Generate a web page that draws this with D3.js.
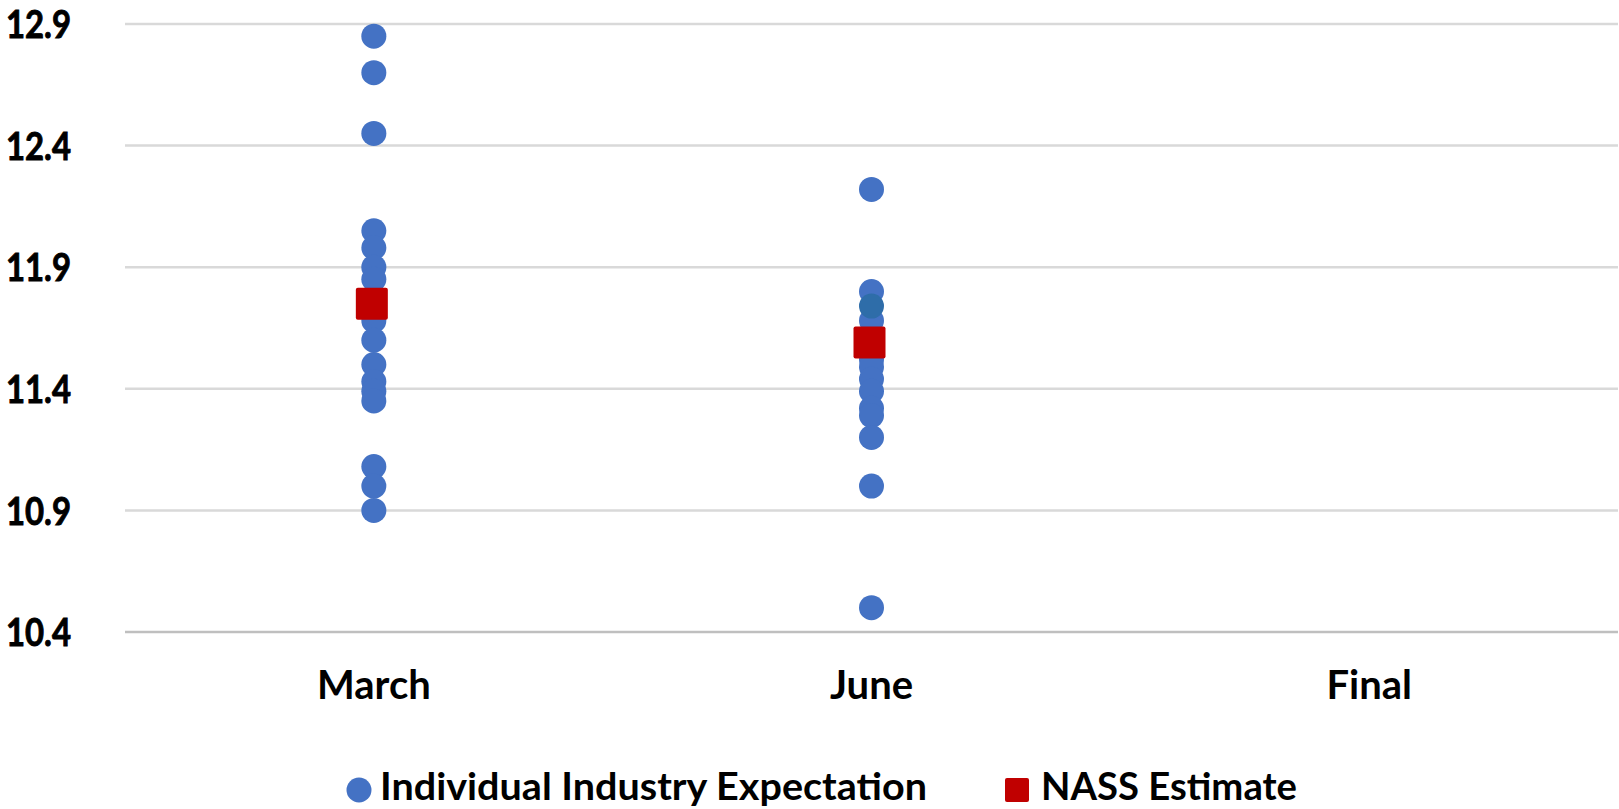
<!DOCTYPE html>
<html>
<head>
<meta charset="utf-8">
<script src="https://cdn.jsdelivr.net/npm/d3@7/dist/d3.min.js"></script>
<style>
  html, body { margin: 0; padding: 0; background: #ffffff; }
  svg { display: block; }
  text { font-family: Lato, "Open Sans", sans-serif; font-weight: 700; fill: #000; }
</style>
</head>
<body>
<svg id="chart" width="1619" height="809"></svg>
<script>
// ---- data ----
const categories = ["March", "June", "Final"];
const yTicks = [10.4, 10.9, 11.4, 11.9, 12.4, 12.9];
const marchExpectations = [12.85, 12.7, 12.45, 12.05, 11.98, 11.9, 11.85, 11.68, 11.6, 11.5, 11.43, 11.39, 11.35, 11.08, 11.0, 10.9];
const juneExpectations = [12.22, 11.8, 11.68, 11.52, 11.49, 11.44, 11.39, 11.32, 11.29, 11.2, 11.0, 10.5];
const juneHighlighted = [11.74];
const finalExpectations = [];
const nassEstimates = [11.75, 11.59, null];
const legendLabels = ["Individual Industry Expectation", "NASS Estimate"];

// ---- layout ----
const svg = d3.select("#chart");
const plotLeft = 125, plotRight = 1618, plotTop = 24, plotBottom = 632;

const x = d3.scaleBand().domain(categories).range([plotLeft, plotRight]).padding(0);
const y = d3.scaleLinear().domain([10.4, 12.9]).range([plotBottom, plotTop]);
const cx = c => x(c) + x.bandwidth() / 2;

const blue = "#4472C4", darkBlue = "#2E6DA9", red = "#C00000";

// gridlines
svg.append("g").selectAll("line").data(yTicks).join("line")
  .attr("x1", plotLeft).attr("x2", plotRight)
  .attr("y1", d => y(d)).attr("y2", d => y(d))
  .attr("stroke", d => d === 10.4 ? "#bfbfbf" : "#d9d9d9")
  .attr("stroke-width", 2.5);

// y axis labels
const yAxis = d3.axisLeft(y).tickValues(yTicks).tickFormat(d3.format(".1f")).tickSize(0).tickPadding(0);
const yg = svg.append("g").attr("transform", "translate(71,0)").call(yAxis);
yg.select(".domain").remove();
yg.selectAll("text").attr("font-size", 38).attr("font-family", "Lato, sans-serif")
  .attr("font-weight", 700).attr("fill", "#000").attr("dy", "0.36em")
  .attr("stroke", "#000").attr("stroke-width", 0.9)
  .attr("textLength", 65).attr("lengthAdjust", "spacingAndGlyphs");

// x axis labels
const xAxis = d3.axisBottom(x).tickSize(0).tickPadding(0);
const xg = svg.append("g").attr("transform", "translate(0,699)").call(xAxis);
xg.select(".domain").remove();
xg.selectAll("text").attr("font-size", 40).attr("font-family", "Lato, sans-serif")
  .attr("font-weight", 700).attr("fill", "#000").attr("dy", 0).attr("y", 0);

// expectation points
const pts = [];
marchExpectations.forEach(v => pts.push({c: "March", v}));
juneExpectations.forEach(v => pts.push({c: "June", v}));
finalExpectations.forEach(v => pts.push({c: "Final", v}));
svg.append("g").selectAll("circle").data(pts).join("circle")
  .attr("cx", d => cx(d.c)).attr("cy", d => y(d.v)).attr("r", 12.5)
  .attr("fill", blue);
svg.append("g").selectAll("circle").data(juneHighlighted).join("circle")
  .attr("cx", cx("June")).attr("cy", d => y(d)).attr("r", 12.5)
  .attr("fill", darkBlue);

// NASS estimates
const nass = categories.map((c, i) => ({c, v: nassEstimates[i]})).filter(d => d.v != null);
const sq = 32;
svg.append("g").selectAll("rect").data(nass).join("rect")
  .attr("x", d => cx(d.c) - sq / 2 - 2).attr("y", d => y(d.v) - sq / 2)
  .attr("width", sq).attr("height", sq).attr("rx", 2)
  .attr("fill", red);

// legend
const lg = svg.append("g");
lg.append("circle").attr("cx", 359).attr("cy", 790).attr("r", 12.5).attr("fill", blue);
lg.append("text").attr("x", 380).attr("y", 800).attr("font-size", 38)
  .attr("textLength", 547).attr("lengthAdjust", "spacingAndGlyphs").text(legendLabels[0]);
lg.append("rect").attr("x", 1005).attr("y", 778).attr("width", 24).attr("height", 24).attr("rx", 2).attr("fill", red);
lg.append("text").attr("x", 1041).attr("y", 800).attr("font-size", 38)
  .attr("textLength", 256).attr("lengthAdjust", "spacingAndGlyphs").text(legendLabels[1]);
</script>
</body>
</html>
